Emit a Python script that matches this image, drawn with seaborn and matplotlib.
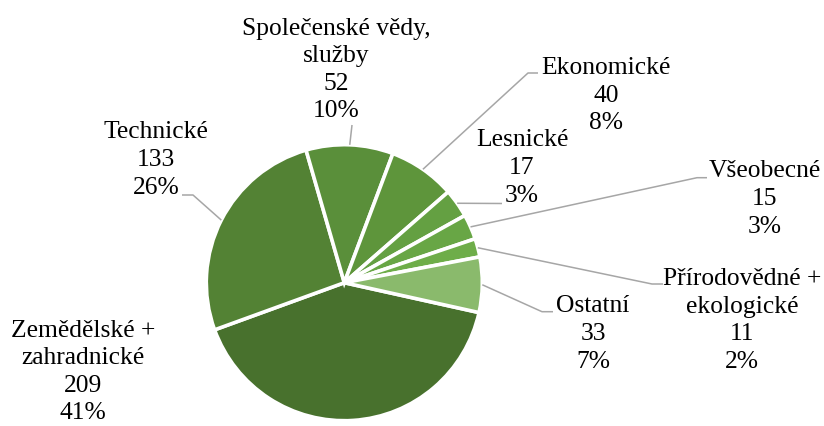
import numpy as np
import matplotlib
matplotlib.use("Agg")
import matplotlib.pyplot as plt
import seaborn as sns

# Study programmes by field
categories = ["Zemědělské +\nzahradnické", "Technické", "Společenské vědy,\nslužby",
              "Ekonomické", "Lesnické", "Všeobecné", "Přírodovědné +\nekologické", "Ostatní"]
counts = [209, 133, 52, 40, 17, 15, 11, 33]
colors = ["#48712d", "#538234", "#5a8f3a", "#5e953b", "#64a042", "#68a645", "#6ead49", "#8aba6c"]

sns.set_theme(style="white")
plt.rcParams["font.family"] = ["Liberation Serif", "DejaVu Serif"]

W, H = 824, 426
CX, CY, R = 344.3, 282.7, 138.0   # pie centre and radius in pixels


def px(x, y):
    """Pixel position (origin top-left) to data units of the pie axes."""
    return (x - CX) / R, (CY - y) / R


# label block centres (pixels) and leader elbows (knee, end) per slice
label_pos = [(83, 372), (156, 160), (336, 70), (606, 95.5),
             (522, 168), (765, 199), (742, 320.5), (593, 334)]
leaders = [None,
           [(193, 195), (182, 195)],
           [(352, 125)],
           [(528, 73), (538, 73)],
           [(502, 203.5)],
           [(697, 177.7), (707, 177.7)],
           [(652, 284), (663, 284)],
           [(542, 311.7), (553, 311.7)]]

# percentages rounded with the largest-remainder rule so they total 100
vals = np.array(counts, dtype=float)
raw = vals / vals.sum() * 100
pct = np.floor(raw).astype(int)
for i in np.argsort(-(raw - pct))[: 100 - pct.sum()]:
    pct[i] += 1

fig = plt.figure(figsize=(W / 100, H / 100), dpi=100)
ax = fig.add_axes([0, 0, 1, 1])
wedges, _ = ax.pie(counts, colors=colors, startangle=-12.5, counterclock=False,
                   radius=1.0, center=(0, 0),
                   wedgeprops=dict(edgecolor="white", linewidth=2.6))
ax.set_xlim(-CX / R, (W - CX) / R)
ax.set_ylim(-(H - CY) / R, CY / R)
ax.set_aspect("auto")
ax.axis("off")

for w, name, n, p, lp, ld in zip(wedges, categories, counts, pct, label_pos, leaders):
    tx, ty = px(*lp)
    ax.text(tx, ty, f"{name}\n{n}\n{p}%", ha="center", va="center",
            fontsize=18.4, color="black", linespacing=1.33)
    if ld is None:
        continue
    mid = np.deg2rad((w.theta1 + w.theta2) / 2)
    pts = [(np.cos(mid), np.sin(mid))] + [px(*q) for q in ld]
    xs, ys = zip(*pts)
    ax.plot(xs, ys, color="#a6a6a6", lw=1.1, solid_capstyle="butt")

fig.savefig("out.png", dpi=100, facecolor="white")
